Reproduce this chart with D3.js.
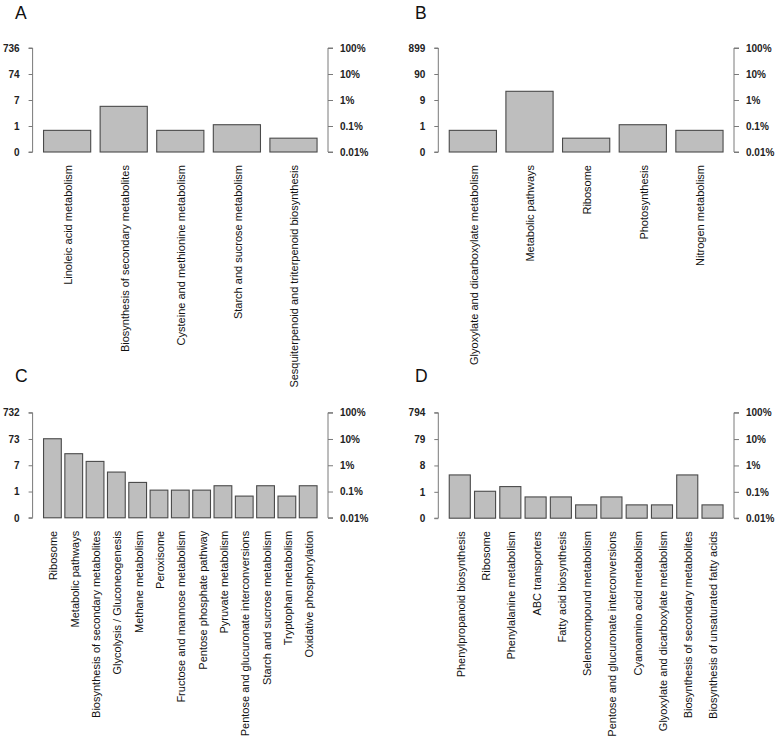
<!DOCTYPE html>
<html>
<head>
<meta charset="utf-8">
<script src="https://cdn.jsdelivr.net/npm/d3@7"></script>
<style>
  html, body { margin: 0; padding: 0; background: #fff; }
  svg { display: block; }
  text { font-family: "Liberation Sans", Arial, Helvetica, sans-serif; }
</style>
</head>
<body>
<svg id="chart" width="778" height="738"></svg>
<script>
// ---------- data ----------
const categoriesA = ["Linoleic acid metabolism", "Biosynthesis of secondary metabolites",
  "Cysteine and methionine metabolism", "Starch and sucrose metabolism",
  "Sesquiterpenoid and triterpenoid biosynthesis"];
const valuesA = [0.068, 0.57, 0.068, 0.112, 0.034];          // percent of genes
const countTicksA = ["0", "1", "7", "74", "736"];

const categoriesB = ["Glyoxylate and dicarboxylate metabolism", "Metabolic pathways",
  "Ribosome", "Photosynthesis", "Nitrogen metabolism"];
const valuesB = [0.068, 2.16, 0.034, 0.112, 0.068];
const countTicksB = ["0", "1", "9", "90", "899"];

const categoriesC = ["Ribosome", "Metabolic pathways", "Biosynthesis of secondary metabolites",
  "Glycolysis / Gluconeogenesis", "Methane metabolism", "Peroxisome",
  "Fructose and mannose metabolism", "Pentose phosphate pathway", "Pyruvate metabolism",
  "Pentose and glucuronate interconversions", "Starch and sucrose metabolism",
  "Tryptophan metabolism", "Oxidative phosphorylation"];
const valuesC = [10.2, 2.75, 1.40, 0.55, 0.222, 0.113, 0.113, 0.113, 0.166, 0.067, 0.166, 0.067, 0.166];
const countTicksC = ["0", "1", "7", "73", "732"];

const categoriesD = ["Phenylpropanoid biosynthesis", "Ribosome", "Phenylalanine metabolism",
  "ABC transporters", "Fatty acid biosynthesis", "Selenocompound metabolism",
  "Pentose and glucuronate interconversions", "Cyanoamino acid metabolism",
  "Glyoxylate and dicarboxylate metabolism", "Biosynthesis of secondary metabolites",
  "Biosynthesis of unsaturated fatty acids"];
const valuesD = [0.437, 0.105, 0.158, 0.064, 0.064, 0.032, 0.064, 0.032, 0.032, 0.437, 0.032];
const countTicksD = ["0", "1", "8", "79", "794"];

const percentTickValues = [0.01, 0.1, 1, 10, 100];
const percentTickLabels = ["0.01%", "0.1%", "1%", "10%", "100%"];

// ---------- layout ----------
const panels = [
  { title: "A", cats: categoriesA, vals: valuesA, counts: countTicksA, x0: 32.6, x1: 328, top: 48, bottom: 152, tx: 15, ty: 19 },
  { title: "B", cats: categoriesB, vals: valuesB, counts: countTicksB, x0: 438.3, x1: 734, top: 48, bottom: 152, tx: 415, ty: 19 },
  { title: "C", cats: categoriesC, vals: valuesC, counts: countTicksC, x0: 32.6, x1: 328, top: 412.7, bottom: 517.8, tx: 15, ty: 382 },
  { title: "D", cats: categoriesD, vals: valuesD, counts: countTicksD, x0: 438.3, x1: 734, top: 412.7, bottom: 518.2, tx: 415, ty: 382 }
];

const svg = d3.select("#chart");
const axisColor = "#7a7a7a";

panels.forEach(p => {
  const n = p.cats.length;
  const span = 1.2 * n - 0.2;
  const x = d3.scaleLinear()
    .domain([0.2 - 0.04 * span, 1.2 * n + 0.04 * span])
    .range([p.x0, p.x1]);
  const y = d3.scaleLog().domain([0.01, 100]).range([p.bottom, p.top]);

  const g = svg.append("g");

  // title
  g.append("text")
    .attr("x", p.tx).attr("y", p.ty)
    .attr("font-size", 17.5)
    .attr("fill", "#111")
    .text(p.title);

  // bars
  g.selectAll("rect.bar").data(p.vals).enter().append("rect")
    .attr("class", "bar")
    .attr("x", (d, i) => x(0.2 + 1.2 * i))
    .attr("width", x(1) - x(0))
    .attr("y", d => y(d))
    .attr("height", d => y(0.01) - y(d))
    .attr("fill", "#bebebe")
    .attr("stroke", "#4a4a4a")
    .attr("stroke-width", 1.1);

  // left axis (counts)
  const left = d3.axisLeft(y)
    .tickValues(percentTickValues)
    .tickSize(4)
    .tickPadding(9)
    .tickFormat((d, i) => p.counts[i]);
  const gl = g.append("g").attr("transform", `translate(${p.x0},0)`).call(left);
  gl.select(".domain").attr("stroke", axisColor).attr("d", `M-4,${p.bottom}H0V${p.top}H-4`);
  gl.selectAll(".tick line").attr("stroke", axisColor);
  gl.selectAll(".tick text").attr("font-size", 10).attr("font-weight", "bold")
    .attr("fill", "#222").style("font-family", "'Liberation Sans', Arial, sans-serif");

  // right axis (percent)
  const right = d3.axisRight(y)
    .tickValues(percentTickValues)
    .tickSize(5)
    .tickPadding(7)
    .tickFormat((d, i) => percentTickLabels[i]);
  const gr = g.append("g").attr("transform", `translate(${p.x1},0)`).call(right);
  gr.select(".domain").attr("stroke", axisColor).attr("d", `M5,${p.bottom}H0V${p.top}H5`);
  gr.selectAll(".tick line").attr("stroke", axisColor);
  gr.selectAll(".tick text").attr("font-size", 10).attr("font-weight", "bold")
    .attr("fill", "#222").style("font-family", "'Liberation Sans', Arial, sans-serif");

  // category labels
  g.selectAll("text.cat").data(p.cats).enter().append("text")
    .attr("class", "cat")
    .attr("transform", (d, i) => `translate(${x(0.7 + 1.2 * i)},${p.bottom + 13}) rotate(-90)`)
    .attr("text-anchor", "end")
    .attr("dy", "0.45em")
    .attr("font-size", 11)
    .attr("fill", "#111")
    .text(d => d);
});
</script>
</body>
</html>
